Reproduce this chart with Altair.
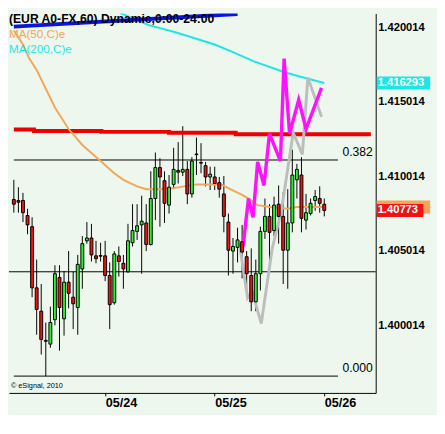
import altair as alt
import pandas as pd

# ---------------- data ----------------
candle_open = [1.40847, 1.40840, 1.40840, 1.40739, 1.40664, 1.40253, 1.40096, 1.39900, 1.39875, 1.40039,
               1.40323, 1.40045, 1.40291, 1.40190, 1.40121, 1.40380, 1.40569, 1.40588, 1.40468, 1.40470,
               1.40468, 1.40336, 1.40153, 1.40468, 1.40418, 1.40361, 1.40556, 1.40632, 1.40676, 1.40689,
               1.40544, 1.40853, 1.41061, 1.40973, 1.40809, 1.40948, 1.41042, 1.41030, 1.41049, 1.40884,
               1.41152, 1.41095, 1.41074, 1.40998, 1.40998, 1.40960, 1.40884, 1.40695, 1.40500, 1.40525,
               1.40563, 1.40462, 1.40336, 1.40159, 1.40348, 1.40632, 1.40733, 1.40638, 1.40815, 1.40733,
               1.40506, 1.40689, 1.40979, 1.41011, 1.40708, 1.40752, 1.40840, 1.40853, 1.40815]
candle_high = [1.40979, 1.40929, 1.40891, 1.40784, 1.40727, 1.40443, 1.40279, 1.40020, 1.40127, 1.40405,
               1.40405, 1.40367, 1.40500, 1.40361, 1.40474, 1.40601, 1.40695, 1.40683, 1.40569, 1.40556,
               1.40569, 1.40424, 1.40500, 1.40531, 1.40474, 1.40683, 1.40815, 1.40815, 1.40872, 1.40815,
               1.41036, 1.41162, 1.41124, 1.41036, 1.41011, 1.41194, 1.41232, 1.41339, 1.41105, 1.41131,
               1.41263, 1.41225, 1.41099, 1.41067, 1.41067, 1.40998, 1.41004, 1.40752, 1.40588, 1.40657,
               1.40676, 1.40500, 1.40518, 1.40443, 1.40664, 1.40853, 1.40815, 1.40866, 1.40941, 1.40897,
               1.40916, 1.41181, 1.41086, 1.41131, 1.40884, 1.40853, 1.40910, 1.40935, 1.40853]
candle_low = [1.40758, 1.40758, 1.40695, 1.40613, 1.40190, 1.39938, 1.39805, 1.39660, 1.39850, 1.40001,
              1.39831, 1.39932, 1.40115, 1.39976, 1.39938, 1.40247, 1.40550, 1.40430, 1.40418, 1.40430,
              1.40298, 1.39976, 1.40140, 1.40329, 1.40247, 1.40354, 1.40531, 1.40575, 1.40348, 1.40500,
              1.40538, 1.40708, 1.40664, 1.40689, 1.40752, 1.40916, 1.40954, 1.41004, 1.40815, 1.40859,
              1.41011, 1.41023, 1.40935, 1.40910, 1.40910, 1.40859, 1.40626, 1.40336, 1.40348, 1.40424,
              1.40317, 1.40222, 1.40096, 1.40096, 1.40235, 1.40582, 1.40405, 1.40601, 1.40550, 1.40279,
              1.40247, 1.40626, 1.40853, 1.40626, 1.40645, 1.40739, 1.40771, 1.40758, 1.40733]
candle_close = [1.40815, 1.40828, 1.40758, 1.40676, 1.40253, 1.40108, 1.39906, 1.39894, 1.40020, 1.40348,
                1.40121, 1.40291, 1.40216, 1.40146, 1.40411, 1.40550, 1.40588, 1.40474, 1.40449, 1.40466,
                1.40336, 1.40140, 1.40481, 1.40430, 1.40380, 1.40569, 1.40638, 1.40670, 1.40701, 1.40544,
                1.40853, 1.41061, 1.40998, 1.40821, 1.40929, 1.41049, 1.41030, 1.41049, 1.40884, 1.41105,
                1.41148, 1.41091, 1.40998, 1.41017, 1.40954, 1.40916, 1.40733, 1.40506, 1.40531, 1.40575,
                1.40493, 1.40348, 1.40159, 1.40348, 1.40632, 1.40733, 1.40626, 1.40809, 1.40733, 1.40506,
                1.40689, 1.41011, 1.41049, 1.40720, 1.40758, 1.40821, 1.40866, 1.40821, 1.40773]

ma50_i = [0, 2, 3.4, 5, 7, 9, 12, 15, 19, 22, 24, 27, 29, 32, 35, 40, 45.4, 47.4, 50, 51.4, 53.4, 56, 60, 62, 68]
ma50_p = [1.41982, 1.41888, 1.41793, 1.41717, 1.41591, 1.41465, 1.41320, 1.41213, 1.41105, 1.41023,
          1.40979, 1.40935, 1.40916, 1.40916, 1.40923, 1.40948, 1.40948, 1.40916, 1.40878, 1.40853,
          1.40809, 1.40796, 1.40784, 1.40796, 1.40796]

ma200_i = [22, 23.6, 29.4, 35.4, 44, 48, 52.6, 59, 62.6, 68]
ma200_p = [1.42128, 1.42096, 1.42020, 1.41970, 1.41888, 1.41837, 1.41774, 1.41705, 1.41673, 1.41629]

blue_i = [0, 49]
blue_p = [1.42008, 1.42093]

red_i = [0, 4.4, 4.4, 19.2, 19.2, 34, 34, 48.6, 48.6, 78.2]
red_p = [1.41317, 1.41317, 1.41307, 1.41307, 1.41301, 1.41301, 1.41295, 1.41295, 1.41285, 1.41285]

pink_i = [50.2, 51.4, 52.4, 53.4, 54.8, 56, 58.4, 59.2, 60.4, 62.4, 64, 67.4]
pink_p = [1.40531, 1.40853, 1.40727, 1.41099, 1.40941, 1.41289, 1.41105, 1.41793, 1.41289, 1.41516, 1.41320, 1.41597]

grey_i = [49.4, 51.2, 52.2, 54.2, 56.6, 58.6, 61.2, 63.2, 64.4, 67.4]
grey_p = [1.40550, 1.40185, 1.40229, 1.40013, 1.40518, 1.40771, 1.41295, 1.41150, 1.41667, 1.41402]

fib_labels = ["0.382", "0.000"]
fib_prices = [1.41112, 1.39660]
fib_end = 71
support_price = 1.40361

y_ticks = [1.400014, 1.405014, 1.410014, 1.415014, 1.420014]
day_ticks = [20, 44, 68]
day_labels = ["05/24", "05/25", "05/26"]

tag_ma200 = 1.416293
tag_last = 1.40773
tag_ma50 = 1.40796

# ---------------- style ----------------
W, H = 377, 390
X_MAX = 78.2
Y_MIN, Y_MAX = 1.39547, 1.42096
BG = "#eef7ee"
GREEN = "#2ef02e"
RED = "#f01212"
ORANGE = "#f2a65a"
CYAN = "#1ee6e6"
FONT = "Liberation Sans"

candles = pd.DataFrame({
    "i": list(range(len(candle_open))),
    "open": candle_open, "high": candle_high, "low": candle_low, "close": candle_close,
})
candles["dir"] = ["up" if c >= o else "down" for o, c in zip(candle_open, candle_close)]

xs = alt.Scale(domain=[0, X_MAX], nice=False, zero=False)
ys = alt.Scale(domain=[Y_MIN, Y_MAX], nice=False, zero=False)

label_expr = " : ".join(
    f"datum.value == {t} ? '{l}'" for t, l in zip(day_ticks[:-1], day_labels[:-1])
) + f" : '{day_labels[-1]}'"

x_axis = alt.Axis(values=day_ticks, labelExpr=label_expr, labelAlign="left",
                  labelFontWeight="bold", labelFontSize=13, labelColor="black", labelFont=FONT,
                  tickColor="black", tickSize=3, domainColor="black", grid=False, title=None,
                  labelPadding=1)
y_axis = alt.Axis(orient="right", values=y_ticks, format=".6f", labelFontWeight="bold",
                  labelFontSize=11.5, labelColor="black", labelFont=FONT, tickSize=0,
                  domainColor="black", grid=False, title=None, labelPadding=2)

def line_layer(xv, yv, color, width):
    df = pd.DataFrame({"i": xv, "p": yv, "k": list(range(len(xv)))})
    return alt.Chart(df).mark_line(color=color, strokeWidth=width, clip=True).encode(
        x=alt.X("i:Q", scale=xs), y=alt.Y("p:Q", scale=ys), order="k:Q")

wick = alt.Chart(candles).mark_rule(color="black", strokeWidth=1, clip=True).encode(
    x=alt.X("i:Q", scale=xs, axis=x_axis),
    y=alt.Y("low:Q", scale=ys, axis=y_axis),
    y2="high:Q")
body = alt.Chart(candles).mark_bar(size=3, stroke="black", strokeWidth=1, clip=True).encode(
    x=alt.X("i:Q", scale=xs), y=alt.Y("open:Q", scale=ys), y2="close:Q",
    color=alt.Color("dir:N", scale=alt.Scale(domain=["up", "down"], range=[GREEN, RED]), legend=None))

fib_df = pd.DataFrame({"p": fib_prices, "label": fib_labels, "x0": [0] * 2, "x1": [fib_end] * 2})
fib_rules = alt.Chart(fib_df).mark_rule(color="black", strokeWidth=1).encode(
    x=alt.X("x0:Q", scale=xs), x2="x1:Q", y=alt.Y("p:Q", scale=ys))
fib_text = alt.Chart(fib_df).mark_text(align="right", dy=-8, fontSize=12.5, font=FONT, color="black").encode(
    x=alt.value(W - 3), y=alt.Y("p:Q", scale=ys), text="label:N")
support = alt.Chart(pd.DataFrame({"p": [support_price]})).mark_rule(color="black", strokeWidth=1).encode(
    x=alt.value(0), x2=alt.value(W), y=alt.Y("p:Q", scale=ys))

tags = pd.DataFrame({"p": [tag_ma50, tag_last, tag_ma200],
                     "t": ["", f"{tag_last:.5f}", f"{tag_ma200:.6f}"],
                     "c": [ORANGE, RED, CYAN],
                     "end": [W + 56, W + 49, W + 56],
                     "k": [0, 1, 2]})
tag_boxes = [
    alt.Chart(tags.iloc[[j]]).mark_rule(strokeWidth=13.5, color=tags["c"][j]).encode(
        x=alt.value(W + 1), x2=alt.value(int(tags["end"][j])), y=alt.Y("p:Q", scale=ys))
    for j in range(3)
]
tag_text = alt.Chart(tags).mark_text(align="left", color="white", fontWeight="bold", fontSize=11.5,
                                     font=FONT).encode(
    x=alt.value(W + 2), y=alt.Y("p:Q", scale=ys), text="t:N")

one = pd.DataFrame({"a": [0]})
title_txt = alt.Chart(one).mark_text(align="left", fontSize=12.5, fontWeight="bold", font=FONT,
                                     color="black", text="(EUR A0-FX,60) Dynamic,0:00-24:00").encode(
    x=alt.value(0), y=alt.value(6))
ma50_txt = alt.Chart(one).mark_text(align="left", fontSize=12, font=FONT, color=ORANGE,
                                    text="MA(50,C)e").encode(x=alt.value(0), y=alt.value(21))
ma200_txt = alt.Chart(one).mark_text(align="left", fontSize=12, font=FONT, color=CYAN,
                                     text="MA(200,C)e").encode(x=alt.value(0), y=alt.value(37))
copy_txt = alt.Chart(one).mark_text(align="left", fontSize=7.5, font=FONT, color="black",
                                    text="© eSignal, 2010").encode(x=alt.value(2), y=alt.value(383))

chart = alt.layer(
    wick,
    support,
    fib_rules,
    line_layer(red_i, red_p, "#ee0000", 4),
    line_layer(ma50_i, ma50_p, ORANGE, 2),
    line_layer(ma200_i, ma200_p, CYAN, 2),
    line_layer(blue_i, blue_p, "#0a14e0", 4),
    line_layer(grey_i, grey_p, "#bdbdbd", 3),
    line_layer(pink_i, pink_p, "#ff10ff", 3.5),
    body,
    fib_text,
    *tag_boxes,
    tag_text,
    title_txt, ma50_txt, ma200_txt, copy_txt,
).properties(
    width=W, height=H, background=BG,
    padding={"left": 0, "top": 0, "right": 0, "bottom": 0},
).configure_view(stroke=None)

chart.save("out.html", embed_options={"renderer": "svg", "actions": False})
